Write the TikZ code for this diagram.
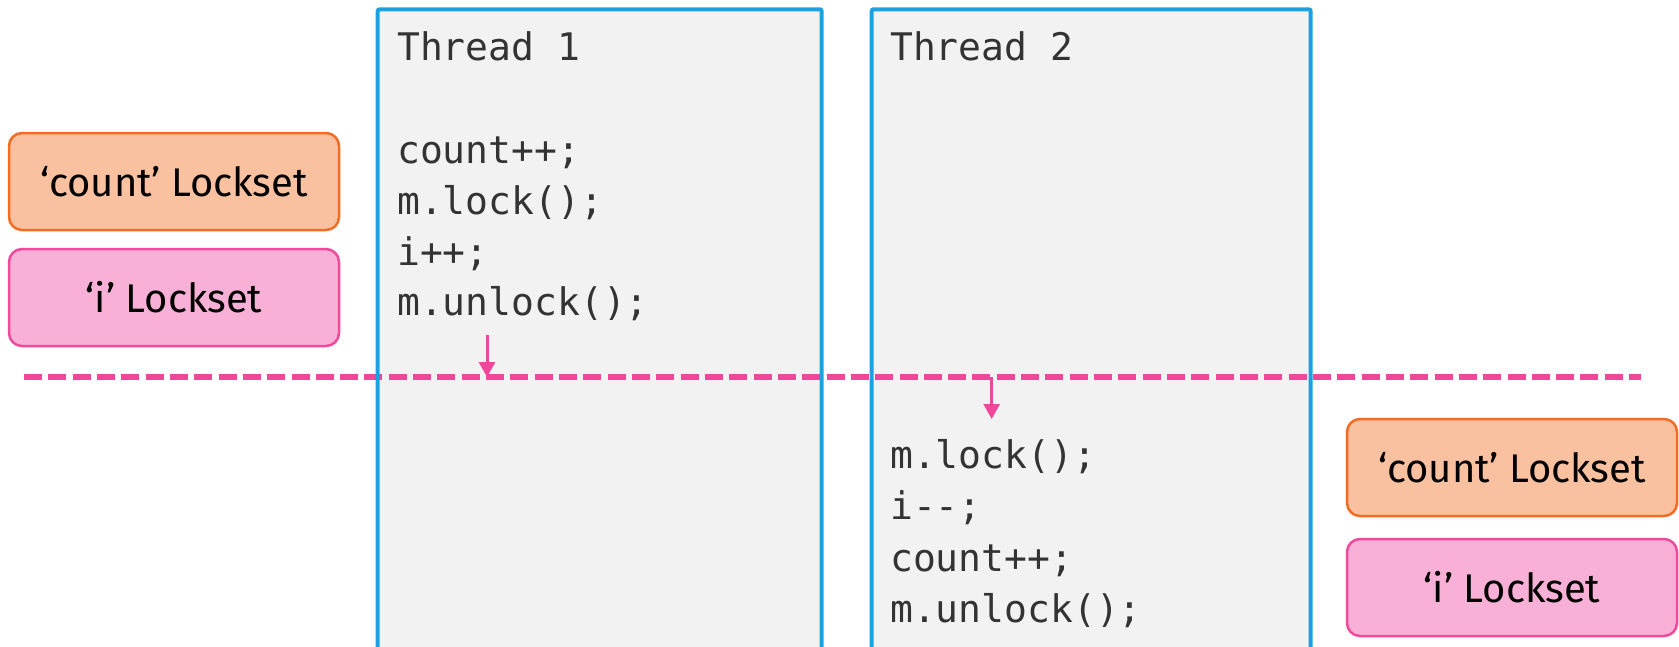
\documentclass[tikz,border=0pt]{standalone}
\usepackage{fontspec}
\setmainfont{Fira Sans}
\setmonofont{DejaVu Sans Mono}
\usetikzlibrary{arrows.meta}

\definecolor{threadblue}{HTML}{1BA1E2}
\definecolor{threadfill}{HTML}{F2F2F2}
\definecolor{codegray}{HTML}{333333}
\definecolor{orangefill}{HTML}{FAC1A0}
\definecolor{orangeedge}{HTML}{F26C21}
\definecolor{pinkfill}{HTML}{F9B0D6}
\definecolor{pinkedge}{HTML}{EF4A9B}
\definecolor{syncpink}{HTML}{F0479A}

\tikzset{
  threadbox/.style={fill=threadfill, draw=none, inner sep=0pt, outer sep=0pt,
    anchor=north west, minimum height=700pt},
  threadedge/.style={draw=threadblue, line width=4pt, rounded corners=2pt},
  code/.style={anchor=base west, inner sep=0pt, text=codegray,
    font=\ttfamily\fontsize{38}{38}\selectfont},
  lockbox/.style={rounded corners=13pt, line width=2.5pt, inner sep=0pt,
    minimum width=330pt, minimum height=97pt, text=black,
    font=\fontsize{40}{40}\selectfont},
  countlock/.style={lockbox, fill=orangefill, draw=orangeedge},
  ilock/.style={lockbox, fill=pinkfill, draw=pinkedge},
  syncline/.style={draw=syncpink, line width=6.5pt, dash pattern=on 18pt off 6.32pt},
  syncarrow/.style={draw=syncpink, line width=3pt,
    -{Triangle[width=16pt,length=15pt]}},
}

\begin{document}
\begin{tikzpicture}[x=1pt,y=-1pt]
  \useasboundingbox (0,0) rectangle (1679,646);
  \clip (0,0) rectangle (1679,646);

  % thread panels (fill first, outline after the sync line)
  \node[threadbox, minimum width=444pt] (t1) at (377.7,9.3) {};
  \node[threadbox, minimum width=439pt] (t2) at (871.7,9.3) {};

  % synchronisation line
  \coordinate (dl) at (24,377);
  \coordinate (dr) at (1640.7,377);
  \draw[syncline] (dl) -- (dr);

  \draw[threadedge] (t1.north west) rectangle (t1.south east);
  \draw[threadedge] (t2.north west) rectangle (t2.south east);

  % thread 1 code
  \node[code] (t1title) at (397,60)    {Thread 1};
  \node[code] (t1a)     at (397,163.5) {count++;};
  \node[code] (t1b)     at (397,214.3) {m.lock();};
  \node[code] (t1c)     at (397,265.1) {i++;};
  \node[code] (t1d)     at (397,315.9) {m.unlock();};

  % thread 2 code
  \node[code] (t2title) at (890,60)    {Thread 2};
  \node[code] (t2a)     at (890,468.5) {m.lock();};
  \node[code] (t2b)     at (890,519.8) {i--;};
  \node[code] (t2c)     at (890,571.1) {count++;};
  \node[code] (t2d)     at (890,622.4) {m.unlock();};

  % arrows onto / off the sync line
  \coordinate (a1s) at (487,335);
  \coordinate (a1e) at (487,377);
  \draw[syncarrow] (a1s) -- (a1e);
  \coordinate (a2s) at (991.7,377);
  \coordinate (a2e) at (991.7,419);
  \draw[syncarrow] (a2s) -- (a2e);

  % locksets
  \node[countlock] (lc1) at (174,181.5)  {‘count’ Lockset};
  \node[ilock]     (li1) at (174,297.5)  {‘i’ Lockset};
  \node[countlock] (lc2) at (1512,467.5) {‘count’ Lockset};
  \node[ilock]     (li2) at (1512,587.5) {‘i’ Lockset};
\end{tikzpicture}
\end{document}
